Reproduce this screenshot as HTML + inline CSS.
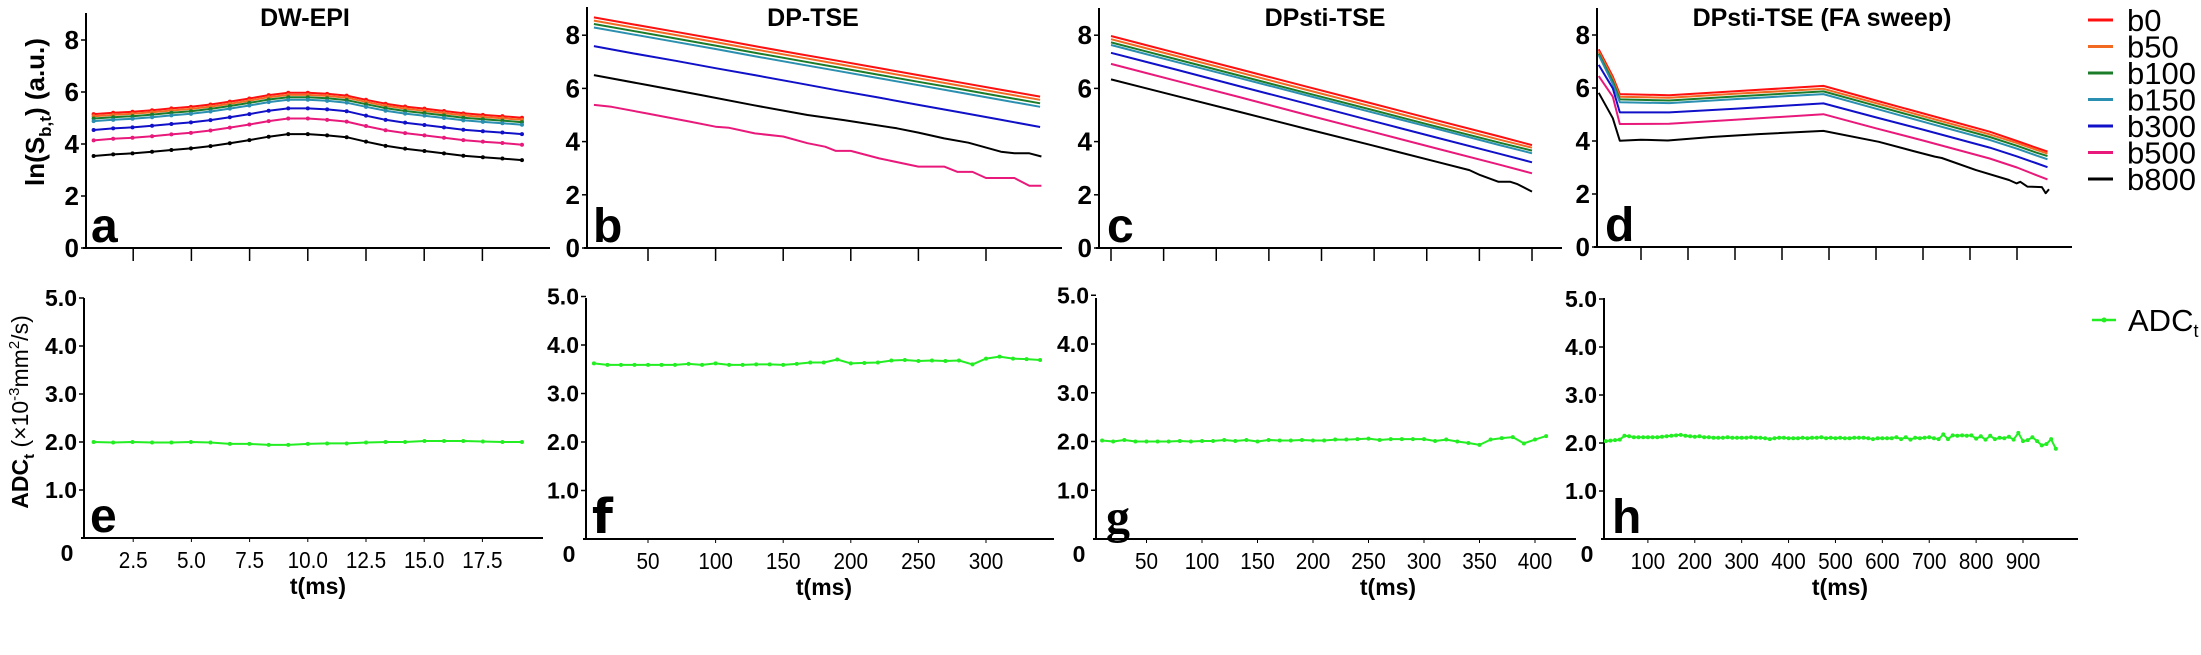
<!DOCTYPE html>
<html><head><meta charset="utf-8"><style>
html,body{margin:0;padding:0;background:#fff;}
svg{display:block;font-family:"Liberation Sans",Arial,sans-serif;}
</style></head><body>
<svg id="fig" width="2201" height="655" viewBox="0 0 2201 655" xmlns="http://www.w3.org/2000/svg">
<rect x="0" y="0" width="2201" height="655" fill="#fff"/>
<text x="305" y="26" text-anchor="middle" font-weight="bold" font-size="25">DW-EPI</text>
<text x="813" y="26" text-anchor="middle" font-weight="bold" font-size="25">DP-TSE</text>
<text x="1325" y="26" text-anchor="middle" font-weight="bold" font-size="25">DPsti-TSE</text>
<text x="1822" y="26" text-anchor="middle" font-weight="bold" font-size="25">DPsti-TSE (FA sweep)</text>
<text transform="translate(44,112) rotate(-90)" text-anchor="middle" font-weight="bold" font-size="26">ln(S<tspan font-size="17" dy="7">b,t</tspan><tspan dy="-7">)  (a.u.)</tspan></text>
<text transform="translate(28,412) rotate(-90)" text-anchor="middle" font-weight="bold" font-size="23">ADC<tspan font-size="15" dy="6">t</tspan><tspan dy="-6" font-weight="normal"> (×10</tspan><tspan font-size="15" dy="-9" font-weight="normal">-3</tspan><tspan dy="9" font-weight="normal">mm</tspan><tspan font-size="15" dy="-9" font-weight="normal">2</tspan><tspan dy="9" font-weight="normal">/s)</tspan></text>
</svg>
<script>
// ---------- data ----------
const bLabels = ['b0','b50','b100','b150','b300','b500','b800'];
const bColors = ['#ff1010','#f26a21','#1b7c2a','#2a8fb0','#1010c8','#e8197a','#000000'];

// Panel a (DW-EPI)
const tA = [0.8,1.64,2.47,3.31,4.14,4.98,5.82,6.65,7.49,8.32,9.16,10.0,10.83,11.67,12.5,13.34,14.18,15.01,15.85,16.68,17.52,18.36,19.2];
const aB0   = [5.15,5.20,5.24,5.30,5.37,5.43,5.52,5.63,5.75,5.88,5.97,5.97,5.93,5.86,5.70,5.55,5.44,5.36,5.27,5.18,5.12,5.07,5.01];
const aB50  = [5.07,5.12,5.16,5.22,5.29,5.35,5.44,5.55,5.67,5.80,5.89,5.89,5.85,5.78,5.62,5.47,5.36,5.28,5.19,5.10,5.04,4.99,4.93];
const aB100 = [4.98,5.03,5.07,5.13,5.20,5.26,5.35,5.46,5.58,5.71,5.80,5.80,5.76,5.69,5.53,5.38,5.27,5.19,5.10,5.01,4.95,4.90,4.84];
const aB150 = [4.88,4.93,4.97,5.03,5.10,5.16,5.25,5.36,5.48,5.61,5.70,5.70,5.66,5.59,5.43,5.28,5.17,5.09,5.00,4.91,4.85,4.80,4.74];
const aB300 = [4.54,4.60,4.64,4.70,4.77,4.83,4.92,5.03,5.15,5.28,5.37,5.37,5.33,5.26,5.09,4.93,4.82,4.73,4.64,4.55,4.49,4.44,4.38];
const aB500 = [4.14,4.20,4.24,4.30,4.37,4.43,4.52,4.63,4.75,4.88,4.98,4.98,4.93,4.86,4.69,4.53,4.42,4.33,4.24,4.15,4.09,4.04,3.97];
const aB800 = [3.54,3.60,3.64,3.70,3.77,3.83,3.92,4.03,4.15,4.28,4.38,4.38,4.33,4.26,4.09,3.93,3.82,3.73,3.64,3.55,3.49,3.44,3.38];
const eADC  = [2.00,1.99,2.00,1.99,1.99,2.00,1.99,1.96,1.96,1.94,1.94,1.96,1.97,1.97,1.99,2.00,2.00,2.02,2.02,2.02,2.01,2.00,2.00];

// Panel b (DP-TSE)
const tB = [10,40,70,100,130,160,190,220,250,280,310,340];
const bB0   = [8.67,8.40,8.13,7.86,7.58,7.31,7.04,6.77,6.50,6.23,5.96,5.69];
const bB50  = [8.55,8.28,8.01,7.74,7.46,7.19,6.92,6.65,6.38,6.11,5.84,5.57];
const bB100 = [8.42,8.15,7.88,7.61,7.33,7.06,6.79,6.52,6.25,5.98,5.71,5.44];
const bB150 = [8.29,8.02,7.75,7.48,7.20,6.93,6.66,6.39,6.12,5.85,5.58,5.31];
const bB300 = [7.59,7.31,7.04,6.76,6.49,6.21,5.93,5.66,5.38,5.11,4.83,4.55];
const tB500 = [10,23,49,81,100,110,129,150,168,181,189,200,221,250,269,279,290,300,321,332,341];
const bB500 = [5.38,5.31,5.06,4.75,4.56,4.52,4.31,4.19,3.94,3.81,3.65,3.65,3.37,3.06,3.06,2.86,2.86,2.63,2.63,2.34,2.34];
const tB800 = [10,49,89,128,168,195,234,250,269,287,311,321,332,341];
const bB800 = [6.50,6.13,5.75,5.37,5.00,4.81,4.50,4.34,4.12,3.96,3.62,3.56,3.56,3.44];
const tF = [10,20,30,40,50,60,70,80,90,100,110,120,130,140,150,160,170,180,190,200,210,220,230,240,250,260,270,280,290,300,310,320,330,340];
const fADC = [3.62,3.59,3.59,3.59,3.59,3.59,3.59,3.61,3.59,3.62,3.59,3.59,3.60,3.60,3.59,3.61,3.64,3.64,3.70,3.62,3.63,3.64,3.68,3.69,3.67,3.68,3.67,3.68,3.60,3.72,3.76,3.72,3.71,3.69];

// Panel c (DPsti-TSE)
const tC = [20,80,140,200,260,320,380,410];
const cB0   = [7.97,7.34,6.71,6.08,5.45,4.82,4.19,3.87];
const cB50  = [7.85,7.22,6.59,5.96,5.33,4.70,4.07,3.77];
const cB100 = [7.73,7.10,6.47,5.84,5.21,4.58,3.96,3.66];
const cB150 = [7.63,7.00,6.38,5.75,5.12,4.50,3.87,3.56];
const cB300 = [7.34,6.71,6.07,5.44,4.80,4.17,3.54,3.22];
const cB500 = [6.92,6.29,5.66,5.02,4.39,3.76,3.13,2.81];
const tC800 = [20,80,140,200,260,320,352,362,379,390,396,410];
const cB800 = [6.34,5.72,5.11,4.49,3.88,3.26,2.93,2.74,2.49,2.49,2.41,2.12];
const tG = [10,20,30,40,50,60,70,80,90,100,110,120,130,140,150,160,170,180,190,200,210,220,230,240,250,260,270,280,290,300,310,320,330,340,350,360,370,380,390,400,410];
const gADC = [2.02,2.00,2.03,2.00,2.00,2.00,2.00,2.01,2.00,2.01,2.01,2.03,2.01,2.03,2.00,2.03,2.02,2.02,2.03,2.02,2.02,2.04,2.04,2.05,2.06,2.03,2.05,2.05,2.05,2.05,2.01,2.04,2.00,1.97,1.93,2.04,2.07,2.09,1.96,2.04,2.11];

// Panel d (DPsti-TSE FA sweep)
const tD = [10,40,55,160,300,488,600,700,842,900,940,965];
const dB0   = [7.46,6.43,5.77,5.73,5.88,6.08,5.53,5.04,4.35,4.00,3.75,3.60];
const dB50  = [7.38,6.35,5.67,5.63,5.78,5.97,5.43,4.94,4.25,3.92,3.67,3.53];
const dB100 = [7.30,6.25,5.57,5.53,5.68,5.87,5.33,4.84,4.15,3.82,3.57,3.43];
const dB150 = [7.25,6.15,5.46,5.43,5.58,5.77,5.22,4.73,4.04,3.71,3.46,3.31];
const dB300 = [6.87,5.99,5.08,5.08,5.22,5.42,4.89,4.43,3.75,3.42,3.17,3.01];
const dB500 = [6.45,5.67,4.64,4.65,4.80,5.01,4.48,4.02,3.34,3.00,2.72,2.55];
const tD800 = [10,40,55,100,157,250,350,488,606,680,725,740,812,883,899,907,922,953,961,968];
const dB800 = [5.82,4.86,4.01,4.05,4.02,4.15,4.26,4.38,3.97,3.62,3.41,3.36,2.91,2.53,2.40,2.46,2.28,2.26,2.03,2.18];
const hStart = 10, hStep = 10;
const hADC = [2.04,2.05,2.06,2.07,2.15,2.14,2.12,2.12,2.12,2.12,2.12,2.12,2.13,2.14,2.15,2.16,2.17,2.15,2.14,2.13,2.14,
2.12,2.12,2.11,2.11,2.11,2.12,2.11,2.11,2.11,2.11,2.12,2.11,2.11,2.10,2.08,
2.10,2.11,2.11,2.10,2.10,2.10,2.11,2.10,2.11,2.11,2.12,
2.10,2.11,2.10,2.11,2.10,2.10,2.11,2.11,2.11,2.10,2.08,2.10,2.10,2.10,2.10,2.12,
2.08,2.12,2.07,2.11,2.10,2.11,2.12,2.10,2.08,
2.18,2.08,2.16,2.15,2.16,2.15,2.16,2.09,2.14,2.07,2.15,2.08,2.11,2.10,2.13,2.07,2.21,2.04,2.06,2.12,2.04,1.95,1.98,2.08,1.88];
const tH = hADC.map((v,i)=>hStart+i*hStep);

const yTicksTop = [0,2,4,6,8];
const yTicksBot = [1,2,3,4,5];
const xTicksA = [2.5,5.0,7.5,10.0,12.5,15.0,17.5];
const xTicksB = [50,100,150,200,250,300];
const xTicksC = [20,68.75,117.5,166.25,215,263.75,312.5,361.25,410];
const xTicksG = [50,100,150,200,250,300,350,400];
const xTicksD = [100,200,300,400,500,600,700,800,900];

// ---------- drawing ----------
const NS = 'http://www.w3.org/2000/svg';
const svg = document.getElementById('fig');
function mk(tag, attrs, parent){
  const e = document.createElementNS(NS, tag);
  for (const k in attrs) e.setAttribute(k, attrs[k]);
  (parent||svg).appendChild(e);
  return e;
}

function drawAxes(p, name){
  const g = mk('g', {});
  
  
  const yl = mk('line', {x1:p.ax, y1:p.yTop, x2:p.ax, y2:p.y0, stroke:'#000', 'stroke-width':2}, g);
  
  
  const xl = mk('line', {x1:p.ax-3, y1:p.y0, x2:p.xEnd, y2:p.y0, stroke:'#000', 'stroke-width':2}, g);
  
  
  p.yTicks.forEach(v=>{
    const y = p.y0 - v*p.ppu;
    const tk = mk('line', {x1:p.ax-5, y1:y, x2:p.ax, y2:y, stroke:'#000', 'stroke-width':1.5}, g);
    
    
    if (p.bottom && v===0) return;
    const lb = mk('text', {x:p.ax-7, y:y+ (p.bottom?8:9), 'text-anchor':'end', 'font-weight':'bold', 'font-size':p.bottom?23:26}, g);
    lb.textContent = p.bottom ? v.toFixed(1) : String(v);
    
    
  });
  p.xTicks.forEach(v=>{
    const x = p.xm(v);
    if (!p.bottom){
      const tk = mk('line', {x1:x, y1:p.y0, x2:x, y2:p.y0+13, stroke:'#000', 'stroke-width':1.5}, g);
      
      
    } else {
      const tk = mk('line', {x1:x, y1:p.y0, x2:x, y2:p.y0+4, stroke:'#000', 'stroke-width':1}, g);
      
      
      const lb = mk('text', {x:x, y:p.y0+30, 'text-anchor':'middle', 'font-size':23, transform:`translate(${x},0) scale(0.9,1) translate(${-x},0)`}, g);
      lb.textContent = p.xFmt ? p.xFmt(v) : String(v);
      
      
    }
  });
  if (p.bottom){
    const z = mk('text', {x:p.ax-17, y:p.y0+23, 'text-anchor':'middle', 'font-weight':'bold', 'font-size':23}, g);
    z.textContent = '0';
    
    
    const tt = mk('text', {x:p.tmsX, y:p.y0+56, 'text-anchor':'middle', 'font-weight':'bold', 'font-size':23}, g);
    tt.textContent = 't(ms)';
    
    
  }
  const L = mk('text', {x:p.ax+p.letterDx, y:p.y0-6, 'font-weight':'bold', 'font-size':48, 'font-family':p.letterFont||'"Liberation Sans", sans-serif'}, g);
  L.textContent = p.letter;
  
  
}

function drawSeries(p, ts, vs, color, name, markers, width){
  const pts = ts.map((t,i)=> p.xm(t).toFixed(1)+','+(p.y0 - vs[i]*p.ppu).toFixed(1)).join(' ');
  const pl = mk('polyline', {points:pts, fill:'none', stroke:color, 'stroke-width':width||2, 'stroke-linejoin':'round'});
  
  
  if (markers){
    ts.forEach((t,i)=>{
      const c = mk('circle', {cx:p.xm(t), cy:p.y0 - vs[i]*p.ppu, r:2, fill:color});
      
      
    });
  }
}

const PA = {ax:86, yTop:13, y0:248, ppu:26, xEnd:550, xm:t=>75+23.28*t, yTicks:yTicksTop, xTicks:xTicksA, letter:'a', letterDx:5};
const PE = {ax:84, yTop:298, y0:538, ppu:48, xEnd:543, xm:t=>75+23.28*t, yTicks:yTicksBot, xTicks:xTicksA, xFmt:v=>v.toFixed(1), bottom:true, letter:'e', letterDx:6, tmsX:318};
const PB = {ax:587, yTop:7, y0:248, ppu:26.6, xEnd:1062, xm:t=>580.4+1.352*t, yTicks:yTicksTop, xTicks:xTicksB, letter:'b', letterDx:6};
const PF = {ax:586, yTop:298, y0:539, ppu:48.5, xEnd:1054, xm:t=>580.4+1.352*t, yTicks:yTicksBot, xTicks:xTicksB, bottom:true, letter:'f', letterDx:6, tmsX:824, letterFont:'"DejaVu Sans", sans-serif'};
const PC = {ax:1099, yTop:8, y0:248, ppu:26.6, xEnd:1562, xm:t=>1111+(t-20)*1.0795, yTicks:yTicksTop, xTicks:xTicksC, letter:'c', letterDx:8};
const PG = {ax:1096, yTop:298, y0:539, ppu:48.75, xEnd:1576, xm:t=>1091+1.11*t, yTicks:yTicksBot, xTicks:xTicksG, bottom:true, letter:'g', letterDx:10, tmsX:1388, letterFont:'"Liberation Serif", serif'};
const PD = {ax:1597, yTop:8, y0:247, ppu:26.5, xEnd:2072, xm:t=>1594+0.47*t, yTicks:yTicksTop, xTicks:xTicksD, letter:'d', letterDx:8};
const PH = {ax:1604, yTop:298, y0:539, ppu:48, xEnd:2078, xm:t=>1601+0.4689*t, yTicks:yTicksBot, xTicks:xTicksD, bottom:true, letter:'h', letterDx:8, tmsX:1840};

drawAxes(PA,'panel-a'); drawAxes(PE,'panel-e'); drawAxes(PB,'panel-b'); drawAxes(PF,'panel-f');
drawAxes(PC,'panel-c'); drawAxes(PG,'panel-g'); drawAxes(PD,'panel-d'); drawAxes(PH,'panel-h');

const aSeries = [aB0,aB50,aB100,aB150,aB300,aB500,aB800];
aSeries.forEach((s,i)=>drawSeries(PA, tA, s, bColors[i], 'panel-a-line-'+bLabels[i], true, 2));
drawSeries(PE, tA, eADC, '#22ee22', 'panel-e-adc-line', true, 2);

const bSeries = [bB0,bB50,bB100,bB150,bB300];
bSeries.forEach((s,i)=>drawSeries(PB, tB, s, bColors[i], 'panel-b-line-'+bLabels[i], false, 2));
drawSeries(PB, tB500, bB500, bColors[5], 'panel-b-line-b500', false, 2);
drawSeries(PB, tB800, bB800, bColors[6], 'panel-b-line-b800', false, 2);
drawSeries(PF, tF, fADC, '#22ee22', 'panel-f-adc-line', true, 2);

const cSeries = [cB0,cB50,cB100,cB150,cB300,cB500];
cSeries.forEach((s,i)=>drawSeries(PC, tC, s, bColors[i], 'panel-c-line-'+bLabels[i], false, 2));
drawSeries(PC, tC800, cB800, bColors[6], 'panel-c-line-b800', false, 2);
drawSeries(PG, tG, gADC, '#22ee22', 'panel-g-adc-line', true, 2);

const dSeries = [dB0,dB50,dB100,dB150,dB300,dB500];
dSeries.forEach((s,i)=>drawSeries(PD, tD, s, bColors[i], 'panel-d-line-'+bLabels[i], false, 2));
drawSeries(PD, tD800, dB800, bColors[6], 'panel-d-line-b800', false, 2);
drawSeries(PH, tH, hADC, '#22ee22', 'panel-h-adc-line', true, 2);

// legend
const lg = mk('g', {});


bLabels.forEach((lab,i)=>{
  const y = 20 + i*26.5;
  const ln = mk('line', {x1:2088, y1:y, x2:2113, y2:y, stroke:bColors[i], 'stroke-width':3}, lg);
  
  
  const tx = mk('text', {x:2127, y:y+11, 'font-size':31}, lg);
  tx.textContent = lab;
  
  
});
const al = mk('line', {x1:2092, y1:320, x2:2116, y2:320, stroke:'#22ee22', 'stroke-width':2.5}, lg);


const ad = mk('circle', {cx:2104, cy:320, r:2.5, fill:'#22ee22'}, lg);


const at = mk('text', {x:2128, y:331, 'font-size':31}, lg);
at.innerHTML = 'ADC<tspan font-size="18" dy="6">t</tspan>';


</script>
</body></html>
